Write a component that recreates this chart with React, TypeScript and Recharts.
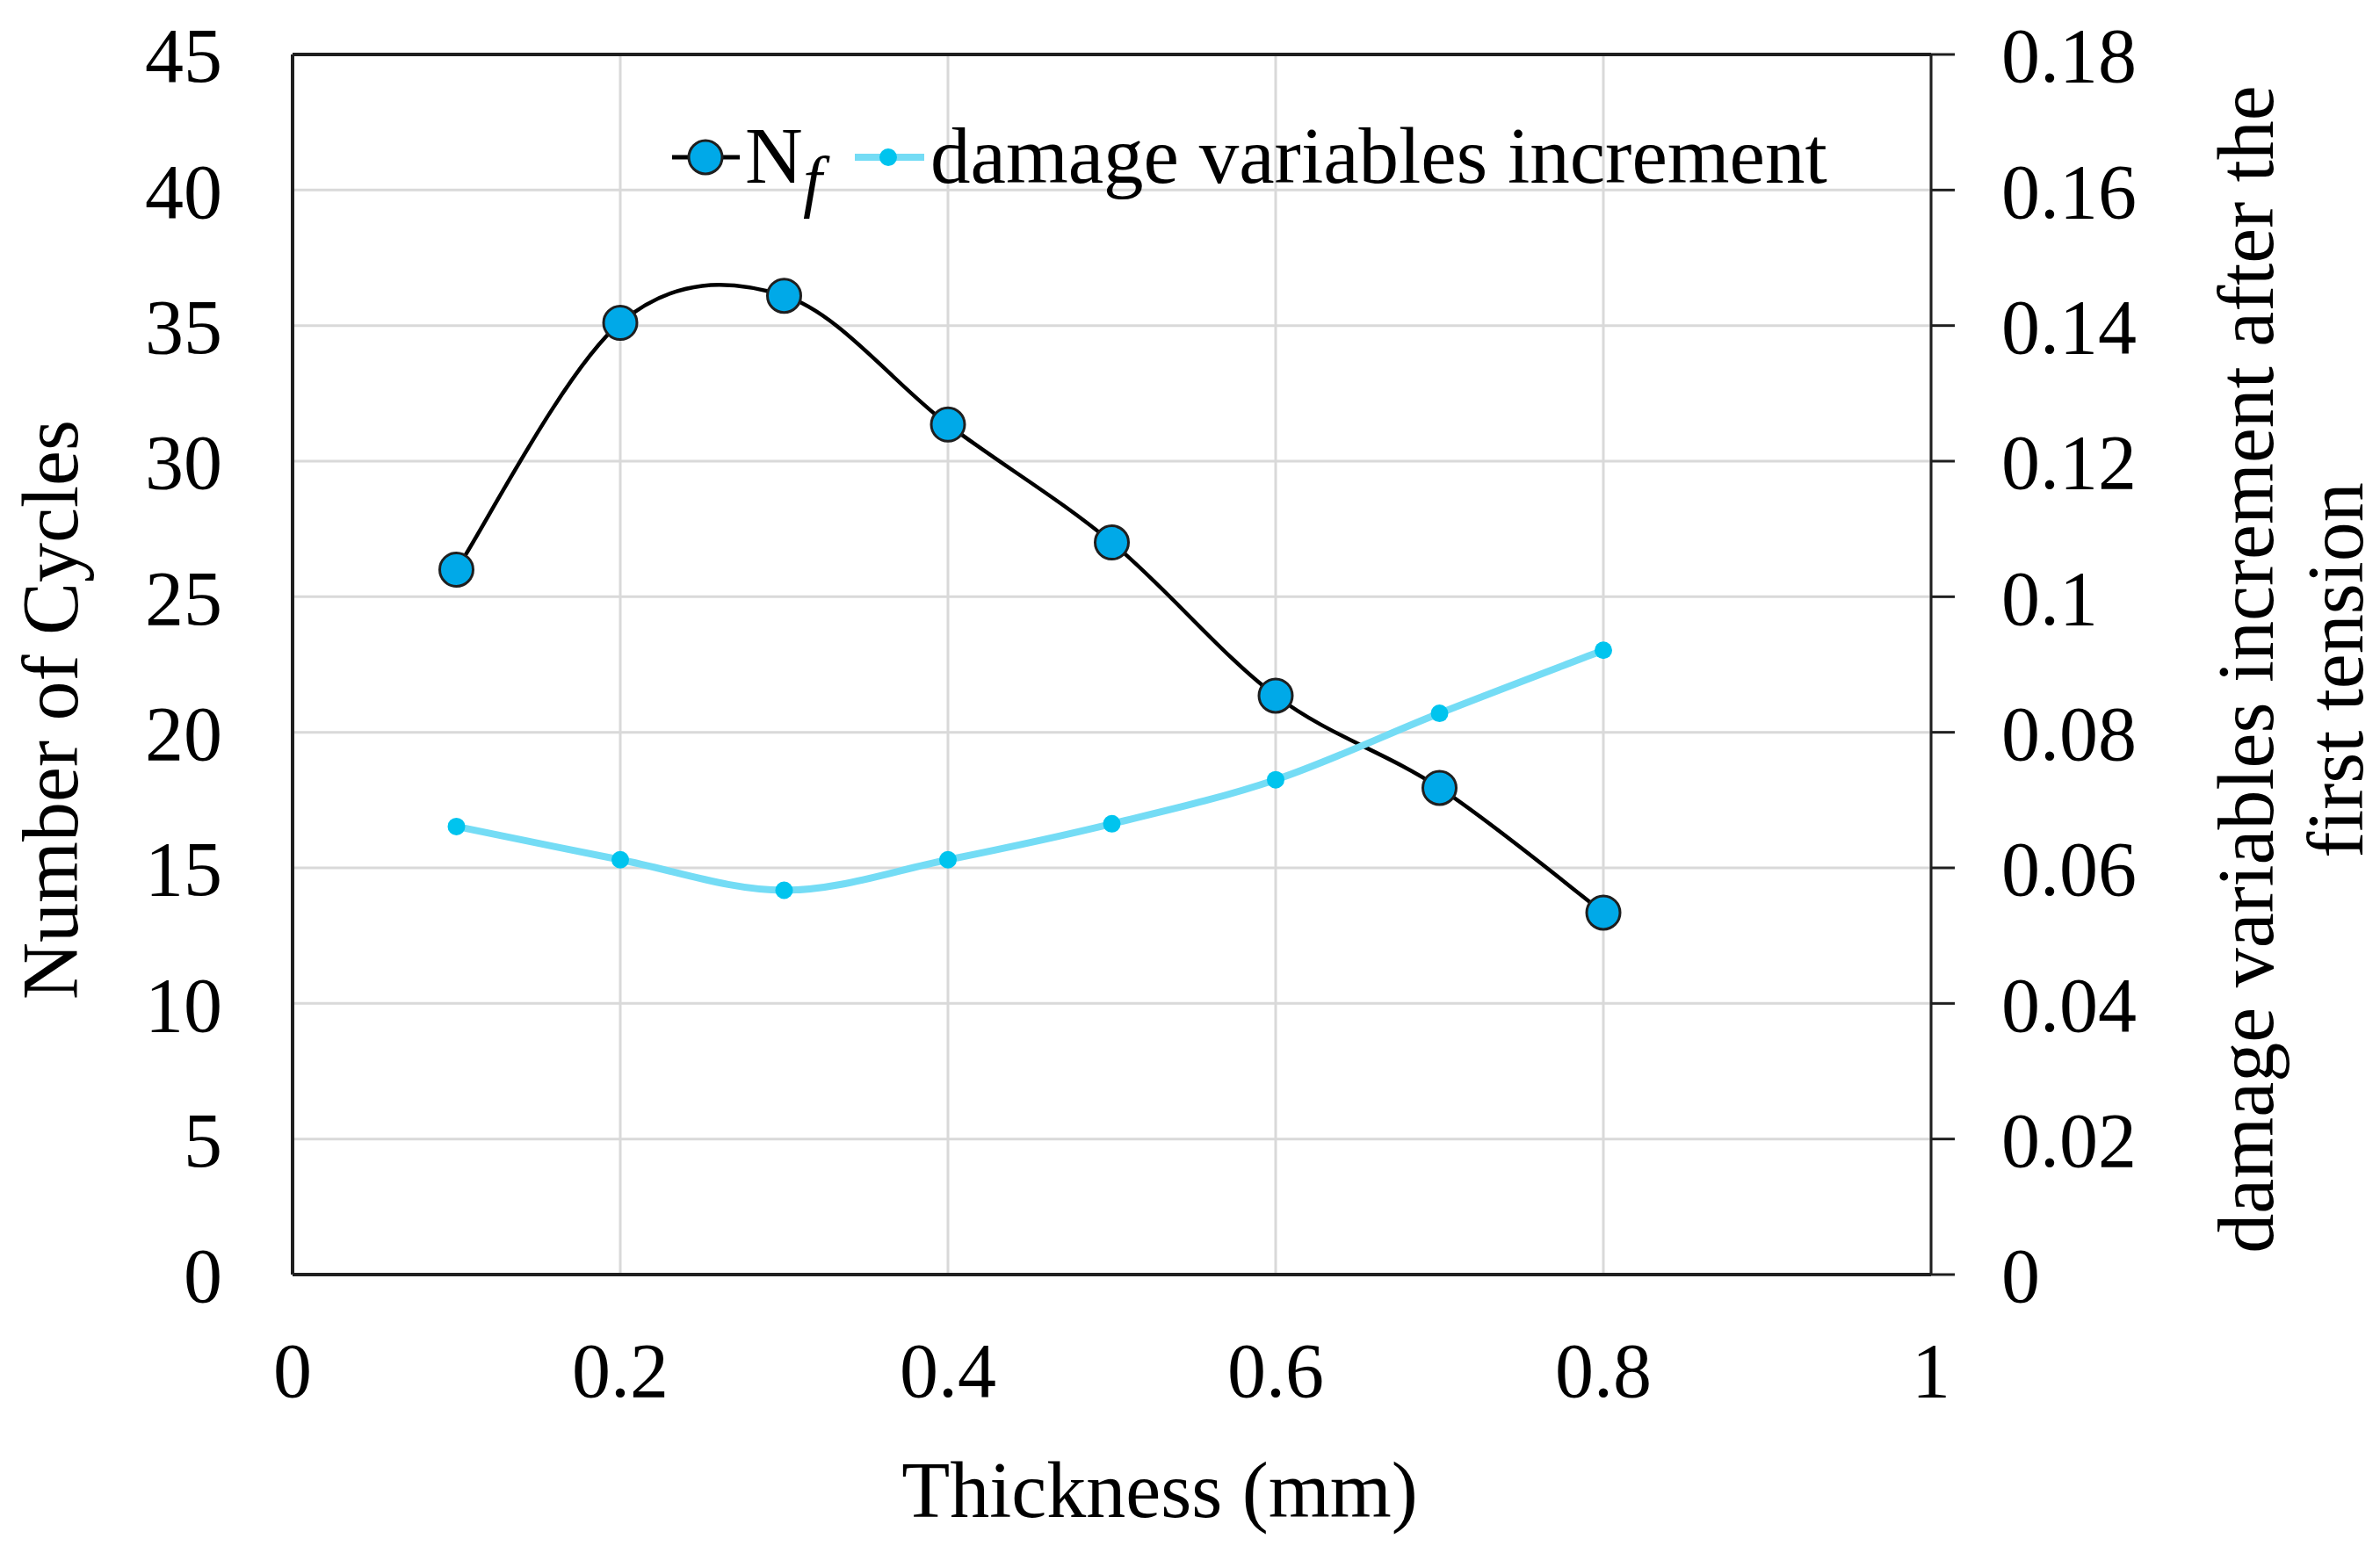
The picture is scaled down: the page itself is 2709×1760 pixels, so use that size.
import React from 'react';
import { LineChart, Line, XAxis, YAxis, CartesianGrid, Legend, ReferenceLine } from 'recharts';

// values
const thickness = [0.1, 0.2, 0.3, 0.4, 0.5, 0.6, 0.7, 0.8];
const cycles = [26.0, 35.1, 36.1, 31.35, 27.0, 21.35, 17.95, 13.35];
const damageIncrement = [0.0661, 0.0612, 0.0567, 0.0612, 0.0665, 0.073, 0.0828, 0.0921];

const xTicks = [0, 0.2, 0.4, 0.6, 0.8, 1];
const leftTicks = [0, 5, 10, 15, 20, 25, 30, 35, 40, 45];
const rightTicks = [0, 0.02, 0.04, 0.06, 0.08, 0.1, 0.12, 0.14, 0.16, 0.18];

const data = thickness.map((t, i) => ({ t, nf: cycles[i], dmg: damageIncrement[i] }));

const FONT = '"Liberation Serif", "Times New Roman", serif';
const AXIS = '#1f1f1f';
const NF_FILL = '#00A9E8';
const DMG_LINE = '#74DCF5';
const DMG_DOT = '#00C4EE';

// Excel-like smoothed line (Catmull-Rom through the points)
const smoothCurve = (context: any) => {
  let pts: number[][] = [];
  return {
    areaStart() {},
    areaEnd() {},
    lineStart() {
      pts = [];
    },
    point(x: number, y: number) {
      pts.push([x, y]);
    },
    lineEnd() {
      if (!pts.length) return;
      context.moveTo(pts[0][0], pts[0][1]);
      for (let i = 0; i < pts.length - 1; i++) {
        const p0 = pts[i - 1] || pts[i];
        const p1 = pts[i];
        const p2 = pts[i + 1];
        const p3 = pts[i + 2] || p2;
        context.bezierCurveTo(
          p1[0] + (p2[0] - p0[0]) / 6,
          p1[1] + (p2[1] - p0[1]) / 6,
          p2[0] - (p3[0] - p1[0]) / 6,
          p2[1] - (p3[1] - p1[1]) / 6,
          p2[0],
          p2[1]
        );
      }
    },
  };
};

const tickStyle = { fontFamily: FONT, fontSize: 88, fill: '#000' };
const titleStyle = { fontFamily: FONT, fontSize: 90, fill: '#000' };
const legendStyle = { fontFamily: FONT, fontSize: 91, fill: '#000' };

const renderLegend = () => (
  <svg width={1400} height={170} style={{ display: 'block', overflow: 'visible' }}>
    <line x1={25} y1={79} x2={102} y2={79} stroke="#000" strokeWidth={5} />
    <circle cx={63} cy={79} r={19} fill={NF_FILL} stroke={AXIS} strokeWidth={3} />
    <text x={108} y={108} style={legendStyle}>N</text>
    <text x={174} y={132} style={{ ...legendStyle, fontSize: 78, fontStyle: 'italic' }}>f</text>
    <line x1={233} y1={79} x2={312} y2={79} stroke={DMG_LINE} strokeWidth={8} />
    <circle cx={271} cy={79} r={10} fill={DMG_DOT} />
    <text x={319} y={108} style={legendStyle}>damage variables increment</text>
  </svg>
);

const App: React.FC = () => {
  return (
    <div style={{ position: 'absolute', left: 0, top: 0, background: '#fff' }}>
      <LineChart
        width={2709}
        height={1760}
        data={data}
        margin={{ top: 62, right: 0, bottom: 0, left: 0 }}
        style={{ fontFamily: FONT }}
      >
        <CartesianGrid yAxisId="left" stroke="#D9D9D9" strokeWidth={3} />
        <XAxis
          dataKey="t"
          type="number"
          domain={[0, 1]}
          ticks={xTicks}
          height={309}
          tickLine={false}
          tickSize={0}
          tickMargin={77}
          axisLine={{ stroke: AXIS, strokeWidth: 4 }}
          tick={tickStyle}
          label={{
            content: () => (
              <text x={1320} y={1727} textAnchor="middle" style={titleStyle}>
                Thickness (mm)
              </text>
            ),
          }}
        />
        <YAxis
          yAxisId="left"
          orientation="left"
          domain={[0, 45]}
          ticks={leftTicks}
          width={333}
          tickLine={false}
          tickSize={0}
          tickMargin={80}
          axisLine={{ stroke: AXIS, strokeWidth: 4 }}
          tick={tickStyle}
          label={{
            content: () => (
              <text x={88} y={808} transform="rotate(-90 88 808)" textAnchor="middle" style={titleStyle}>
                Number of Cycles
              </text>
            ),
          }}
        />
        <YAxis
          yAxisId="right"
          orientation="right"
          domain={[0, 0.18]}
          ticks={rightTicks}
          width={511}
          tickSize={27}
          tickMargin={53}
          tickLine={{ stroke: AXIS, strokeWidth: 3 }}
          axisLine={{ stroke: AXIS, strokeWidth: 3 }}
          tick={tickStyle}
          label={{
            content: () => (
              <g>
                <text x={2587} y={762} transform="rotate(-90 2587 762)" textAnchor="middle" style={titleStyle}>
                  damage variables increment after the
                </text>
                <text x={2689} y={763} transform="rotate(-90 2689 763)" textAnchor="middle" style={titleStyle}>
                  first tension
                </text>
              </g>
            ),
          }}
        />
        <ReferenceLine yAxisId="left" y={45} stroke={AXIS} strokeWidth={4} />
        <Legend
          layout="horizontal"
          verticalAlign="middle"
          align="center"
          content={renderLegend}
          wrapperStyle={{ left: 740, top: 100, width: 1400, height: 170 }}
        />
        <Line
          yAxisId="left"
          dataKey="nf"
          name="Nf"
          type={smoothCurve as any}
          stroke="#000"
          strokeWidth={4.5}
          dot={{ r: 19, fill: NF_FILL, stroke: AXIS, strokeWidth: 3 }}
          activeDot={false}
          isAnimationActive={false}
        />
        <Line
          yAxisId="right"
          dataKey="dmg"
          name="damage variables increment"
          type={smoothCurve as any}
          stroke={DMG_LINE}
          strokeWidth={8}
          dot={{ r: 10, fill: DMG_DOT, stroke: 'none' }}
          activeDot={false}
          isAnimationActive={false}
        />
      </LineChart>
    </div>
  );
};

export default App;
